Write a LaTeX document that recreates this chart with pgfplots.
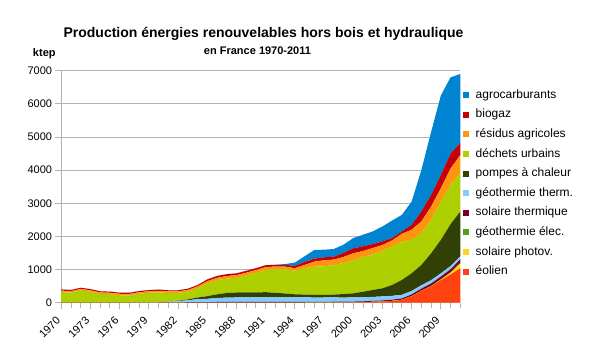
\documentclass[border=0pt]{standalone}
\usepackage{fontspec}
\setmainfont{Liberation Sans}
\usepackage{pgfplots}
\pgfplotsset{compat=1.18}
\usepackage{pgfplotstable}
\definecolor{cEol}{HTML}{FF420E}
\definecolor{cPv}{HTML}{FFD320}
\definecolor{cGel}{HTML}{579D1C}
\definecolor{cSth}{HTML}{7E0021}
\definecolor{cGth}{HTML}{83CAFF}
\definecolor{cPac}{HTML}{314004}
\definecolor{cDech}{HTML}{AECF00}
\definecolor{cRes}{HTML}{FF950E}
\definecolor{cBio}{HTML}{C5000B}
\definecolor{cAgro}{HTML}{0084D1}
\definecolor{cGrid}{HTML}{B3B3B3}

\pgfplotstableread{
year eol pv gelec solth geoth pac dech resid biogaz agro
1970 0 0 0 0 5 0 315 45 35 0
1971 0 0 0 0 5 0 300 45 35 0
1972 0 0 0 0 5 0 365 45 35 0
1973 0 0 0 0 5 0 325 45 35 0
1974 0 0 0 0 5 0 260 45 35 0
1975 0 0 0 0 5 0 250 45 35 0
1976 0 0 0 0 5 0 220 45 35 0
1977 0 0 0 0 5 0 215 45 35 0
1978 0 0 0 2 5 0 263 45 35 0
1979 0 0 0 4 5 0 291 45 35 0
1980 0 0 0 6 10 0 299 45 35 0
1981 0 0 0 9 20 0 266 45 35 0
1982 0 0 0 12 35 10 238 45 35 0
1983 0 0 0 14 60 25 236 50 35 0
1984 0 0 0 15 90 50 280 55 40 0
1985 0 0 0 16 100 80 389 65 50 0
1986 0 0 6 16 120 110 428 70 55 0
1987 0 0 6 17 130 140 437 75 55 0
1988 0 0 6 17 135 150 442 80 55 0
1989 0 0 6 17 135 150 517 80 55 0
1990 0 0 6 17 135 150 592 85 55 0
1991 0 0 6 17 135 160 677 80 55 0
1992 0 0 6 17 135 140 712 80 55 0
1993 0 0 6 17 135 120 732 80 55 20
1994 0 0 6 17 135 95 717 70 70 100
1995 0 0 6 18 135 86 795 100 90 170
1996 0 0 8 18 130 84 846 151 93 260
1997 1 0 8 18 130 78 865 180 90 230
1998 2 0 8 19 130 86 891 164 90 230
1999 3 0 8 19 125 105 940 180 120 250
2000 7 0 8 20 125 122 1006 202 150 310
2001 11 0 8 22 125 164 1050 180 140 350
2002 23 0 8 24 120 208 1077 190 120 380
2003 34 0 8 27 120 245 1136 170 110 450
2004 51 0 8 32 115 328 1156 190 70 530
2005 83 1 8 38 110 445 1155 240 70 500
2006 189 2 8 50 105 533 1013 300 150 700
2007 353 3 8 62 100 611 963 350 300 1250
2008 490 6 8 75 100 811 1010 400 350 1900
2009 680 15 8 85 95 1009 1158 400 400 2400
2010 851 55 8 95 95 1266 1190 490 450 2300
2011 1040 150 8 110 95 1347 1170 530 370 2080
}\data

\begin{document}
\begin{tikzpicture}[x=1pt,y=1pt]
\path[use as bounding box] (0,0) rectangle (597,362);
\node[anchor=base, inner sep=0pt, font=\bfseries\fontsize{14}{16}\selectfont] at (263.5,324.5) {Production énergies renouvelables hors bois et hydraulique};
\node[anchor=base, inner sep=0pt, font=\bfseries\fontsize{11}{13}\selectfont] at (257.5,307.7) {en France 1970-2011};
\node[anchor=base, inner sep=0pt, font=\bfseries\fontsize{11}{13}\selectfont] at (44.3,305.3) {ktep};
\begin{axis}[
  at={(61.2pt,59.3pt)}, anchor=south west,
  scale only axis, width=399.1pt, height=232pt,
  xmin=1970, xmax=2011, ymin=0, ymax=7000,
  axis lines*=left,
  axis line style={draw=cGrid, line width=0.8pt},
  ymajorgrids,
  grid style={draw=cGrid, line width=0.8pt},
  ytick={0,1000,...,7000},
  xtick={1970,1973,...,2009},
  minor xtick={1970,...,2011},
  tick align=outside,
  tick style={draw=cGrid, line width=0.8pt},
  major tick length=6pt, minor tick length=5pt,
  ticklabel style={font=\fontsize{11}{13}\selectfont},
  /pgf/number format/assume math mode=true,
  /pgf/number format/1000 sep={},
  yticklabel style={anchor=east, inner sep=0pt, xshift=-3pt},
  xticklabel style={anchor=east, inner sep=0pt, xshift=-2.8pt, yshift=-10pt, rotate=45},
  stack plots=y,
  reverse legend,
  legend cell align=left,
  legend image code/.code={\fill[#1] (0pt,-3pt) rectangle (6pt,3pt);},
  legend style={at={(axis description cs:1,1)}, anchor=north west,
    xshift=2.7pt, yshift=-19.3pt, draw=none, fill=none,
    font=\fontsize{12}{14}\selectfont, row sep=9.6pt, inner sep=0pt,
    nodes={inner sep=0pt, text height=8pt, text depth=2pt},
    /tikz/every odd column/.append style={column sep=6.5pt}},
]
\addplot[fill=cEol, draw=none] table[x=year,y=eol]{\data} \closedcycle;
\addlegendentry{éolien}
\addplot[fill=cPv, draw=none] table[x=year,y=pv]{\data} \closedcycle;
\addlegendentry{solaire photov.}
\addplot[fill=cGel, draw=none] table[x=year,y=gelec]{\data} \closedcycle;
\addlegendentry{géothermie élec.}
\addplot[fill=cSth, draw=none] table[x=year,y=solth]{\data} \closedcycle;
\addlegendentry{solaire thermique}
\addplot[fill=cGth, draw=none] table[x=year,y=geoth]{\data} \closedcycle;
\addlegendentry{géothermie therm.}
\addplot[fill=cPac, draw=none] table[x=year,y=pac]{\data} \closedcycle;
\addlegendentry{pompes à chaleur}
\addplot[fill=cDech, draw=none] table[x=year,y=dech]{\data} \closedcycle;
\addlegendentry{déchets urbains}
\addplot[fill=cRes, draw=none] table[x=year,y=resid]{\data} \closedcycle;
\addlegendentry{résidus agricoles}
\addplot[fill=cBio, draw=none] table[x=year,y=biogaz]{\data} \closedcycle;
\addlegendentry{biogaz}
\addplot[fill=cAgro, draw=none] table[x=year,y=agro]{\data} \closedcycle;
\addlegendentry{agrocarburants}
\end{axis}
\end{tikzpicture}
\end{document}
